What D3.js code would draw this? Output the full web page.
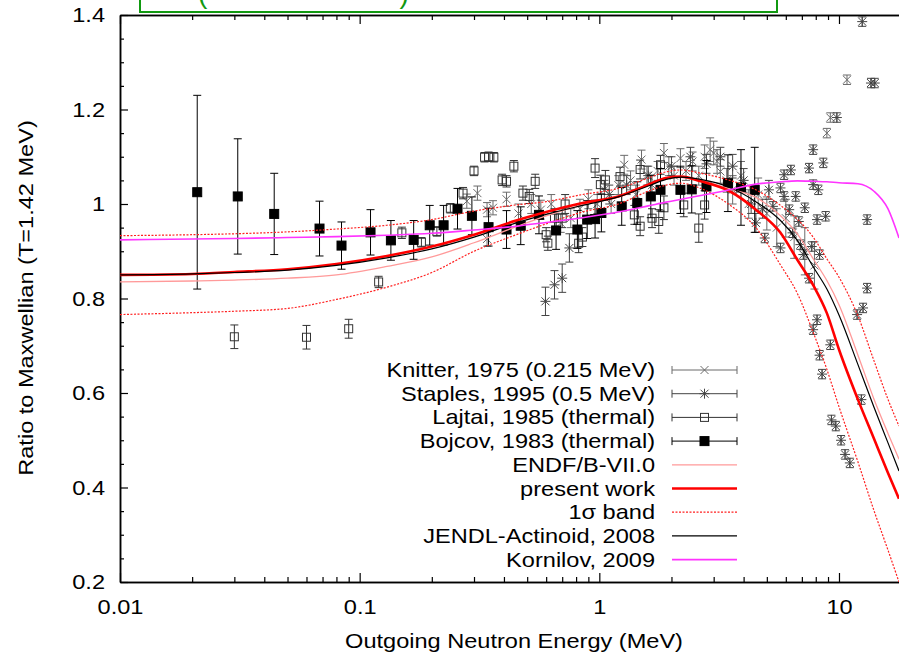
<!DOCTYPE html>
<html>
<head>
<meta charset="utf-8">
<script src="https://cdnjs.cloudflare.com/ajax/libs/d3/7.8.5/d3.min.js"></script>
<style>
body{margin:0;background:#fff;}
svg text{font-family:"Liberation Sans",Arial,Helvetica,sans-serif;font-size:20.5px;fill:#000;}
</style>
</head>
<body>
<div id="chart"></div>
<script>
// ratio to Maxwellian

// evaluated curves, one shared energy grid (MeV)
let curveE=[0.01,0.02,0.03,0.05,0.08,0.13,0.2,0.3,0.45,0.6,0.85,1.2,1.6,1.9,2.2,2.65,3.5,4.5,5.7,6.7,7.85,8.9,10,12,14,16,17.8];
let endf=[0.835,0.837,0.839,0.843,0.850,0.868,0.888,0.918,0.952,0.975,0.998,1.015,1.040,1.055,1.058,1.050,1.032,1.014,0.975,0.937,0.882,0.838,0.787,0.680,0.587,0.515,0.460];
let present=[0.850,0.852,0.856,0.862,0.873,0.890,0.910,0.935,0.965,0.983,1.002,1.016,1.041,1.055,1.058,1.048,1.027,0.988,0.939,0.882,0.826,0.769,0.692,0.586,0.503,0.431,0.376];
let bandUp=[0.933,0.935,0.937,0.941,0.947,0.955,0.967,0.985,0.998,1.005,1.020,1.033,1.055,1.068,1.072,1.065,1.050,1.030,0.997,0.968,0.928,0.884,0.845,0.763,0.668,0.587,0.530];
let bandLo=[0.766,0.770,0.773,0.779,0.798,0.824,0.855,0.900,0.935,0.958,0.983,1.000,1.027,1.040,1.044,1.033,0.998,0.950,0.871,0.811,0.725,0.650,0.571,0.454,0.351,0.268,0.200];
let jendl=[0.850,0.852,0.855,0.860,0.870,0.886,0.905,0.930,0.960,0.978,0.997,1.015,1.038,1.052,1.057,1.052,1.035,1.005,0.965,0.923,0.865,0.820,0.765,0.660,0.570,0.495,0.435];
let kornilov=[0.924,0.926,0.927,0.929,0.931,0.934,0.938,0.945,0.953,0.961,0.971,0.983,0.996,1.004,1.010,1.018,1.030,1.042,1.047,1.049,1.048,1.047,1.045,1.043,1.027,0.990,0.928];

// experimental points: [energy MeV, ratio, error]
let knitter=[[0.28,1.006,0.015],[0.31,1.023,0.015],[0.34,0.988,0.015],[0.34,0.926,0.015],[0.36,0.992,0.015],[0.41,1.010,0.015],
 [0.46,0.980,0.02],[0.52,1.000,0.02],[0.57,0.988,0.02],[0.63,1.000,0.02],[0.69,0.960,0.02],[0.76,0.970,0.02],[0.83,0.990,0.02],
 [0.90,1.010,0.02],[0.98,1.000,0.02],[1.05,1.030,0.02],[1.12,1.000,0.02],[1.20,1.040,0.02],[1.27,1.083,0.02],[1.35,1.050,0.02],
 [1.42,1.020,0.02],[1.50,1.094,0.02],[1.58,1.060,0.02],[1.66,1.040,0.02],[1.75,1.070,0.02],[1.86,1.108,0.02],[1.95,1.080,0.02],
 [2.05,1.060,0.02],[2.18,1.097,0.02],[2.30,1.070,0.02],[2.45,1.090,0.02],[2.60,1.060,0.02],[2.75,1.100,0.025],[2.90,1.115,0.025],
 [3.00,1.108,0.025],[3.10,1.090,0.025],[3.20,1.069,0.025],[3.40,1.050,0.025],[3.60,1.030,0.03],[3.90,1.060,0.03],[4.20,1.000,0.03],
 [4.60,1.020,0.035],[5.00,0.980,0.035],[5.50,0.950,0.04],[6.00,0.970,0.04],[6.50,0.930,0.045],[7.20,0.900,0.05],[7.90,0.870,0.05],
 [8.90,1.150,0.01],[9.20,1.183,0.01],[10.8,1.263,0.01]];
let staples=[[0.596,0.794,0.03],[0.65,0.829,0.03],[0.70,0.843,0.03],[0.75,0.907,0.03],[1.10,1.020,0.02],[1.30,1.040,0.02],
 [1.60,1.060,0.02],[2.00,1.080,0.02],[2.40,1.100,0.02],[2.80,1.085,0.02],[3.20,1.100,0.02],[3.60,1.080,0.025],[4.00,1.050,0.025],
 [4.30,1.000,0.02],[4.50,0.960,0.02],[4.80,0.990,0.02],[5.10,1.030,0.02],[4.90,0.928,0.01],[5.30,0.995,0.01],[5.70,1.034,0.01],
 [5.70,0.907,0.01],[5.90,1.062,0.01],[5.90,1.016,0.01],[6.20,0.988,0.01],[6.30,1.072,0.01],[6.40,0.939,0.01],[6.60,1.016,0.01],
 [6.80,0.963,0.01],[6.90,0.914,0.01],[7.10,0.893,0.01],[7.20,0.992,0.01],[7.50,1.076,0.01],[7.50,0.843,0.01],[7.70,0.910,0.01],
 [7.80,1.115,0.01],[7.80,1.041,0.01],[7.80,0.734,0.01],[8.10,0.967,0.01],[8.10,0.755,0.01],[8.20,1.030,0.01],[8.30,0.893,0.01],
 [8.30,0.680,0.01],[8.50,0.640,0.01],[8.60,1.087,0.01],[8.80,0.974,0.01],[9.20,0.702,0.01],[9.30,0.543,0.01],[9.70,0.530,0.01],
 [9.80,1.183,0.01],[10.2,0.500,0.01],[10.6,0.470,0.01],[11.1,0.452,0.01],[11.9,0.766,0.01],[12.4,0.586,0.01],[12.5,1.386,0.01],
 [12.6,0.780,0.01],[13.1,0.967,0.01],[13.1,0.822,0.01],[13.6,1.256,0.01],[14.1,1.256,0.01]];
let lajtai=[[0.030,0.719,0.025],[0.060,0.718,0.025],[0.090,0.736,0.02],[0.120,0.835,0.012],[0.150,0.939,0.012],[0.181,0.919,0.01],
 [0.210,0.942,0.01],[0.239,0.991,0.01],[0.27,1.023,0.012],[0.30,1.070,0.01],[0.332,1.099,0.01],[0.345,1.100,0.01],[0.363,1.099,0.01],
 [0.393,1.051,0.012],[0.41,1.048,0.012],[0.44,1.080,0.012],[0.48,1.023,0.015],[0.51,1.016,0.015],[0.54,1.048,0.015],[0.60,0.935,0.015],
 [0.61,0.917,0.015],[0.65,0.970,0.02],[0.70,0.970,0.02],[0.72,1.000,0.02],[0.82,0.917,0.02],[0.85,0.930,0.02],[0.96,1.076,0.02],
 [1.01,1.041,0.02],[1.06,1.051,0.02],[1.22,1.058,0.02],[1.40,0.977,0.02],[1.48,0.953,0.02],[1.48,1.073,0.02],[1.66,0.970,0.02],
 [1.77,0.963,0.025],[1.80,1.083,0.02],[1.86,0.992,0.025],[2.25,0.998,0.025],[2.60,0.949,0.03],[2.75,0.998,0.03]];
let bojcov=[[0.021,1.025,0.205],[0.031,1.016,0.122],[0.044,0.979,0.086],[0.068,0.948,0.058],[0.084,0.912,0.05],[0.111,0.940,0.048],
 [0.135,0.923,0.042],[0.168,0.924,0.041],[0.196,0.955,0.042],[0.224,0.955,0.042],[0.256,0.990,0.043],[0.294,0.975,0.04],
 [0.345,0.951,0.04],[0.41,0.946,0.04],[0.47,0.954,0.04],[0.56,0.977,0.04],[0.66,0.944,0.04],[0.81,0.946,0.04],[0.89,0.967,0.04],
 [0.96,0.968,0.04],[1.02,0.981,0.04],[1.24,0.995,0.04],[1.44,1.002,0.045],[1.64,1.016,0.045],[1.80,1.030,0.045],[2.18,1.030,0.05],
 [2.43,1.031,0.05],[2.80,1.037,0.055],[3.44,1.044,0.06],[3.90,1.035,0.08],[4.45,1.030,0.09]];

let xTicks=[0.01,0.1,1,10];
let xTickLabels=["0.01","0.1","1","10"];
let yTicks=[0.2,0.4,0.6,0.8,1.0,1.2,1.4];
let yTickLabels=["0.2","0.4","0.6","0.8","1","1.2","1.4"];
let legendNames=["Knitter, 1975 (0.215 MeV)","Staples, 1995 (0.5 MeV)","Lajtai, 1985 (thermal)","Bojcov, 1983 (thermal)",
 "ENDF/B-VII.0","present work","1\u03c3 band","JENDL-Actinoid, 2008","Kornilov, 2009"];

let width=899, height=654;
let padLeft=120, padTop=15, padBottom=582, padRight=899;
let xMax=17.8;
let stretch=1.15; // text in the picture is a bit wide

let x=d3.scaleLog().domain([0.01,xMax]).range([padLeft,padRight]);
let y=d3.scaleLinear().domain([0.2,1.4]).range([padBottom,padTop]);

let svg=d3.select("#chart").append("svg").attr("width",width).attr("height",height);

svg.append("defs").append("clipPath").attr("id","plotclip")
 .append("rect").attr("x",padLeft).attr("y",padTop).attr("width",padRight-padLeft+20).attr("height",padBottom-padTop);

// green title box, cut off at the top of the picture
svg.append("rect")
 .attr("x",140).attr("y",-40).attr("width",637).attr("height",52)
 .attr("fill","none").attr("stroke","#119911").attr("stroke-width",2);
let title=svg.append("text").attr("x",198).attr("y",3).style("fill","#119911");
title.append("tspan").text("(").style("font-size","28px");
title.append("tspan").text("thermal neutron fission").attr("dy",-6).style("font-size","19px");
title.append("tspan").text(")").attr("dy",6).style("font-size","28px");

// axes
function styleAxis(g){
  g.selectAll("path.domain").attr("stroke","#000").attr("stroke-width",1.5);
  g.selectAll(".tick line").attr("stroke","#000").attr("stroke-width",1.2);
  g.selectAll(".tick text").style("font-size","20.5px").style("font-family",'"Liberation Sans",Arial,sans-serif');
}

let minorX=x.ticks().filter(d=>xTicks.indexOf(d)===-1);
let yMinor=d3.range(0.25,1.4,0.05).filter(d=>Math.abs(Math.round(d*5)-d*5)>0.01);

let gx=svg.append("g").attr("transform","translate(0,"+padBottom+")")
 .call(d3.axisBottom(x).tickValues(xTicks).tickSize(-9).tickSizeOuter(0).tickPadding(17)
   .tickFormat((d,i)=>xTickLabels[i]));
styleAxis(gx);
gx.selectAll(".tick text").attr("transform","scale("+stretch+",1)");
let gxm=svg.append("g").attr("transform","translate(0,"+padBottom+")")
 .call(d3.axisBottom(x).tickValues(minorX).tickSize(-5).tickSizeOuter(0).tickFormat(""));
styleAxis(gxm);

let gt=svg.append("g").attr("transform","translate(0,"+padTop+")")
 .call(d3.axisTop(x).tickValues(xTicks).tickSize(-9).tickSizeOuter(0).tickFormat(""));
styleAxis(gt);
let gtm=svg.append("g").attr("transform","translate(0,"+padTop+")")
 .call(d3.axisTop(x).tickValues(minorX).tickSize(-5).tickSizeOuter(0).tickFormat(""));
styleAxis(gtm);

let gy=svg.append("g").attr("transform","translate("+padLeft+",0)")
 .call(d3.axisLeft(y).tickValues(yTicks).tickSize(-8).tickSizeOuter(0).tickPadding(15)
   .tickFormat((d,i)=>yTickLabels[i]));
styleAxis(gy);
gy.selectAll(".tick text").attr("x",-15/stretch).attr("transform","scale("+stretch+",1)");
let gym=svg.append("g").attr("transform","translate("+padLeft+",0)")
 .call(d3.axisLeft(y).tickValues(yMinor).tickSize(-4).tickSizeOuter(0).tickFormat(""));
styleAxis(gym);

// axis titles
svg.append("text").text("Outgoing Neutron Energy (MeV)")
 .attr("text-anchor","middle")
 .attr("transform","translate(514,648) scale("+stretch+",1)");
svg.append("text").text("Ratio to Maxwellian (T=1.42 MeV)")
 .attr("text-anchor","middle")
 .attr("transform","translate(33,298) rotate(-90) scale("+stretch+",1)");

// markers
function marker(g,type,cx,cy,col){
  let s=4;
  if(type==="x"){
    g.append("path").attr("d","M"+(cx-s)+","+(cy-s)+"L"+(cx+s)+","+(cy+s)+"M"+(cx-s)+","+(cy+s)+"L"+(cx+s)+","+(cy-s))
     .attr("stroke",col).attr("stroke-width",1).attr("fill","none");
  } else if(type==="star"){
    g.append("path").attr("d","M"+(cx-s)+","+(cy-s)+"L"+(cx+s)+","+(cy+s)+"M"+(cx-s)+","+(cy+s)+"L"+(cx+s)+","+(cy-s)
      +"M"+cx+","+(cy-s-1)+"L"+cx+","+(cy+s+1)+"M"+(cx-s-1)+","+cy+"L"+(cx+s+1)+","+cy)
     .attr("stroke",col).attr("stroke-width",1).attr("fill","none");
  } else if(type==="sq"){
    g.append("rect").attr("x",cx-4).attr("y",cy-4).attr("width",8).attr("height",8)
     .attr("fill","none").attr("stroke",col).attr("stroke-width",1);
  } else {
    g.append("rect").attr("x",cx-4.5).attr("y",cy-4.5).attr("width",9).attr("height",9)
     .attr("fill",col).attr("stroke",col).attr("stroke-width",1);
  }
}

let plot=svg.append("g").attr("clip-path","url(#plotclip)");

function drawPoints(data,type,col){
  let g=plot.append("g");
  data.forEach(function(d){
    let cx=x(d[0]), y1=y(d[1]+d[2]), y2=y(d[1]-d[2]);
    g.append("path").attr("d","M"+cx+","+y1+"L"+cx+","+y2+"M"+(cx-4)+","+y1+"L"+(cx+4)+","+y1+"M"+(cx-4)+","+y2+"L"+(cx+4)+","+y2)
     .attr("stroke",col).attr("stroke-width",1).attr("fill","none");
    marker(g,type,cx,y(d[1]),col);
  });
}

let series=[
 {data:knitter,type:"x",col:"#6a6a6a"},
 {data:staples,type:"star",col:"#444"},
 {data:lajtai,type:"sq",col:"#333"},
 {data:bojcov,type:"fsq",col:"#000"}
];
series.forEach(s=>drawPoints(s.data,s.type,s.col));

let line=d3.line().x(d=>x(d[0])).y(d=>y(d[1])).curve(d3.curveMonotoneX);
function curve(vals,col,w,dash){
  let p=plot.append("path").datum(curveE.map((e,i)=>[e,vals[i]]))
   .attr("d",line).attr("fill","none").attr("stroke",col).attr("stroke-width",w);
  if(dash) p.attr("stroke-dasharray",dash);
}
let curves=[
 {vals:endf,col:"#ff9a9a",w:1.3},
 {vals:present,col:"#ff0000",w:2.6},
 {vals:bandUp,col:"#ff2020",w:1.2,dash:"2,1.5"},
 {vals:bandLo,col:"#ff2020",w:1.2,dash:"2,1.5"},
 {vals:jendl,col:"#000",w:1.2},
 {vals:kornilov,col:"#ff33ff",w:1.6}
];
curves.forEach(c=>curve(c.vals,c.col,c.w,c.dash));

// legend
let legY=[370,393.7,417.4,441.1,464.8,488.5,512.2,535.9,559.6];
let leg=svg.append("g");
let legStyles=[
 {type:"x",col:"#6a6a6a"},{type:"star",col:"#444"},{type:"sq",col:"#333"},{type:"fsq",col:"#000"},
 {col:"#ff9a9a",w:1.3},{col:"#ff0000",w:2.6},{col:"#ff2020",w:1.2,dash:"2,1.5"},{col:"#000",w:1.2},{col:"#ff33ff",w:1.6}
];
legendNames.forEach(function(name,i){
  let ly=legY[i];
  leg.append("text").text(name).attr("text-anchor","end")
   .attr("transform","translate(655,"+(ly+7)+") scale("+stretch+",1)");
  let st=legStyles[i];
  if(st.type){
    leg.append("path").attr("d","M672,"+ly+"L737,"+ly+"M672,"+(ly-4)+"L672,"+(ly+4)+"M737,"+(ly-4)+"L737,"+(ly+4))
     .attr("stroke",st.col).attr("stroke-width",1).attr("fill","none");
    marker(leg,st.type,704.5,ly,st.col);
  } else {
    let p=leg.append("line").attr("x1",672).attr("x2",737).attr("y1",ly).attr("y2",ly)
     .attr("stroke",st.col).attr("stroke-width",st.w);
    if(st.dash) p.attr("stroke-dasharray",st.dash);
  }
});
</script>
</body>
</html>
